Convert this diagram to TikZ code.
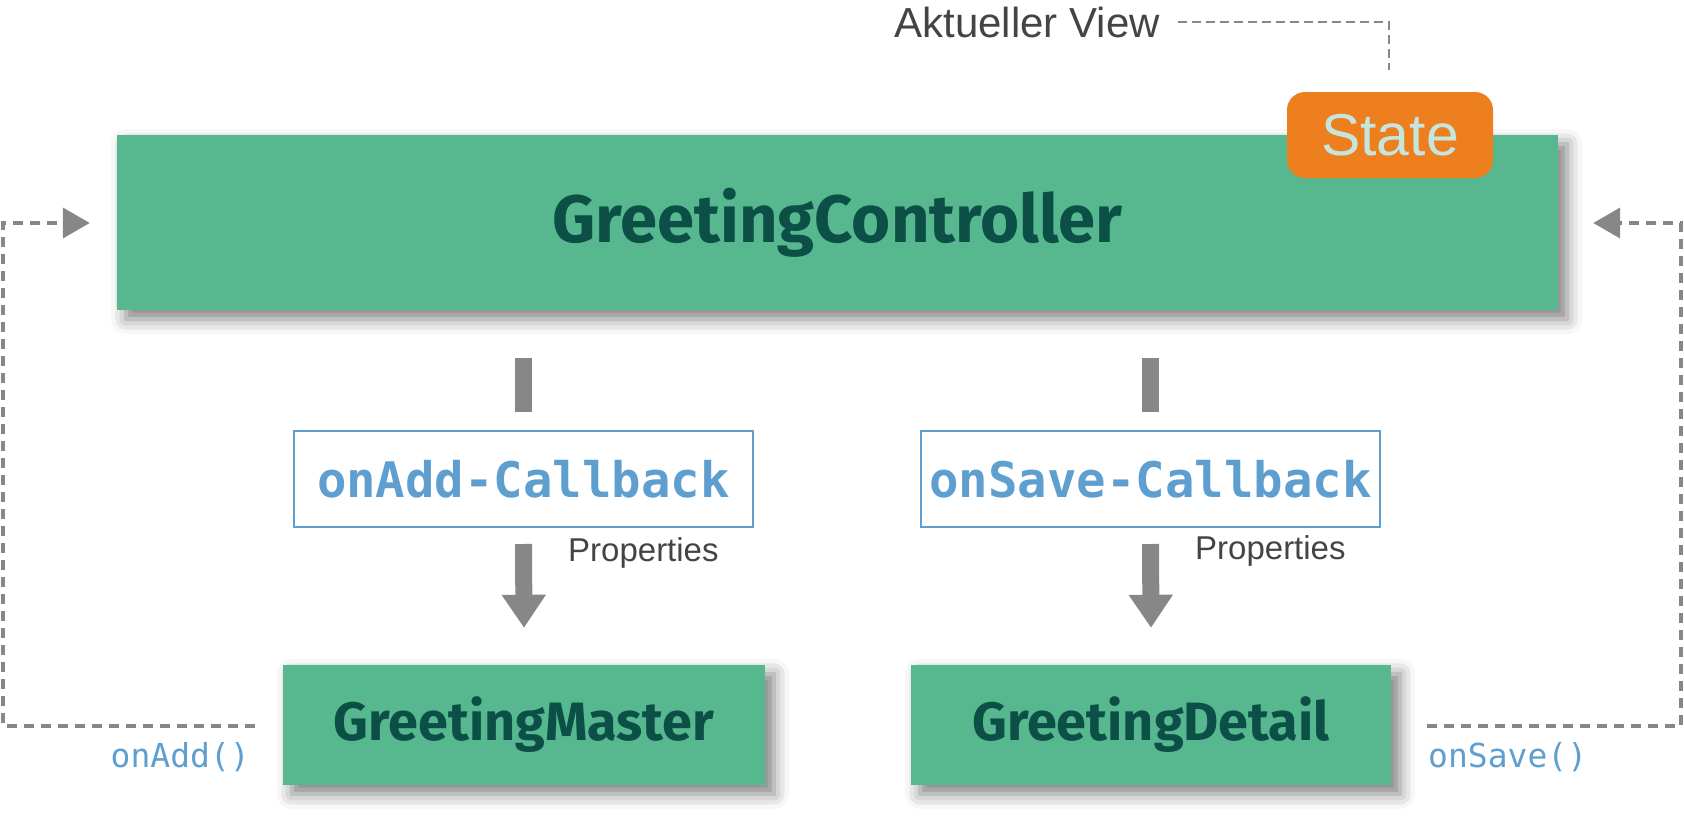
\documentclass[tikz,border=0pt]{standalone}
\usepackage{fontspec}
\setmainfont{Liberation Sans}
\newfontfamily\titlefont{Fira Sans}
\newfontfamily\codefont{DejaVu Sans Mono}
\usetikzlibrary{arrows.meta,calc,shadows.blur}
\definecolor{boxgreen}{HTML}{57B890}
\definecolor{darkgreen}{HTML}{0C4F47}
\definecolor{stateorange}{HTML}{EE7F1F}
\definecolor{statetext}{HTML}{C5E6E0}
\definecolor{cbblue}{HTML}{5E9FCF}
\definecolor{arrowgray}{HTML}{878787}
\definecolor{labelgray}{HTML}{444444}
\tikzset{
  greenbox/.style={fill=boxgreen, draw=none, inner sep=0pt, text=darkgreen,
    font=\titlefont\bfseries,
    blur shadow={shadow xshift=9pt, shadow yshift=-9pt, shadow blur radius=15pt,
      shadow opacity=50}},
  cbbox/.style={draw=cbblue, line width=2pt, fill=white, inner sep=0pt,
    text=cbblue, font=\codefont\bfseries\fontsize{49}{55}\selectfont},
  bar/.style={draw=arrowgray, line width=17pt},
  blockarrow/.style={draw=arrowgray, line width=17pt,
    -{Triangle[length=33pt,width=42pt,fill=arrowgray]}},
  loopline/.style={draw=arrowgray, line width=4pt, dash pattern=on 10pt off 7pt,
    -{Triangle[length=27pt,width=30pt,fill=arrowgray]}},
  viewline/.style={draw=arrowgray, line width=2pt, dash pattern=on 9pt off 5pt},
  proplabel/.style={text=labelgray, font=\fontsize{33}{38}\selectfont, inner sep=0pt, anchor=west},
  calllabel/.style={text=cbblue, font=\codefont\fontsize{33}{38}\selectfont, inner sep=0pt},
}
\begin{document}
\begin{tikzpicture}[x=1pt,y=-1pt]
\useasboundingbox (0,0) rectangle (1684,835);
% main controller
\node[greenbox, minimum width=1441pt, minimum height=175pt,
  font=\titlefont\bfseries\fontsize{67}{75}\selectfont] (ctrl) at (837.5,222.5) {GreetingController};
% state badge
\node[fill=stateorange, rounded corners=18pt, minimum width=206pt, minimum height=86pt,
  inner sep=0pt, text=statetext, font=\fontsize{59}{66}\selectfont] (state) at (1390,135) {State};
\node[text=labelgray, font=\fontsize{42}{48}\selectfont, inner sep=0pt, anchor=east] (view) at (1160,22) {Aktueller View};
\coordinate (viewend) at (1389,70);
\draw[viewline] ([xshift=18pt]view.east) -| (viewend);
% callback boxes
\node[cbbox, minimum width=459pt, minimum height=96pt] (addcb) at (523.5,479) {onAdd-Callback};
\node[cbbox, minimum width=459pt, minimum height=96pt] (savecb) at (1150.5,479) {onSave-Callback};
% child components
\node[greenbox, minimum width=482pt, minimum height=120pt,
  font=\titlefont\bfseries\fontsize{54}{62}\selectfont] (master) at (524,725) {GreetingMaster};
\node[greenbox, minimum width=480pt, minimum height=120pt,
  font=\titlefont\bfseries\fontsize{54}{62}\selectfont] (detail) at (1151,725) {GreetingDetail};
% bars from controller
\draw[bar] ($(ctrl.south -| addcb.north)+(0,48)$) -- ($(addcb.north)+(0,-18)$);
\draw[bar] ($(ctrl.south -| savecb.north)+(0,48)$) -- ($(savecb.north)+(0,-18)$);
% property arrows
\draw[blockarrow] ($(addcb.south)+(0,16)$) -- ($(master.north)+(0,-37)$);
\draw[blockarrow] ($(savecb.south)+(0,16)$) -- ($(detail.north)+(0,-37)$);
\node[proplabel] (propl) at (568,553) {Properties};
\node[proplabel] (propr) at (1195,551) {Properties};
% callback loops
\coordinate (lstart) at ($(master.west)+(-28,1)$);
\coordinate (lcorner) at (3,726);
\coordinate (rstart) at ($(detail.east)+(36,1)$);
\coordinate (rcorner) at (1681,726);
\draw[loopline] (lstart) -- (lcorner) |- ($(ctrl.west)+(-27,0.5)$);
\draw[loopline] (rstart) -- (rcorner) |- ($(ctrl.east)+(35,0.5)$);
\node[calllabel, anchor=east] (onadd) at (250,757) {onAdd()};
\node[calllabel, anchor=west] (onsave) at (1428,757) {onSave()};
\end{tikzpicture}
\end{document}
